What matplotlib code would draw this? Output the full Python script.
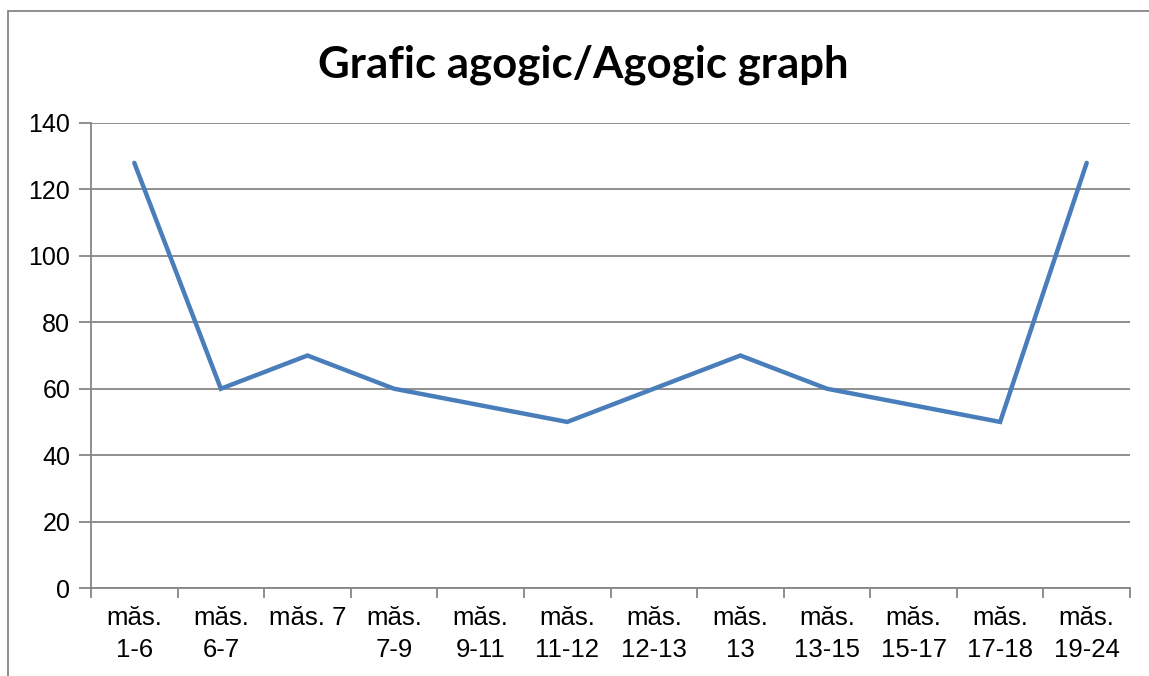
import numpy as np
import matplotlib.pyplot as plt
from matplotlib.patches import Rectangle

# agogic values per section
sections = ['măs.\n1-6', 'măs.\n6-7', 'măs. 7', 'măs.\n7-9', 'măs.\n9-11', 'măs.\n11-12',
            'măs.\n12-13', 'măs.\n13', 'măs.\n13-15', 'măs.\n15-17', 'măs.\n17-18', 'măs.\n19-24']
tempo = [128, 60, 70, 60, 55, 50, 60, 70, 60, 55, 50, 128]
yticks = [0, 20, 40, 60, 80, 100, 120, 140]

W, H = 1149, 676
fig = plt.figure(figsize=(W / 100, H / 100), dpi=100)
ax = fig.add_axes([91 / W, 1 - 588 / H, (1130 - 91) / W, (588 - 123) / H])

grid_col = '#868686'
x = np.arange(len(tempo))
ax.plot(x, tempo, color='#4A7EBB', lw=3.2, solid_capstyle='round', solid_joinstyle='miter', zorder=3)

ax.set_xlim(-0.5, len(tempo) - 0.5)
ax.set_ylim(0, 140)
ax.set_yticks(yticks)
ax.yaxis.grid(True, color=grid_col, lw=1.3)
ax.set_axisbelow(True)

ax.set_xticks(x)
ax.set_xticklabels(sections, fontsize=18.5, family='Liberation Sans', linespacing=1.4, va='top')
ax.set_xticks(np.arange(len(tempo) + 1) - 0.5, minor=True)
ax.tick_params(axis='x', which='major', length=0, pad=13)
ax.tick_params(axis='x', which='minor', length=7, color=grid_col, width=1.3)
ax.tick_params(axis='y', length=9, color=grid_col, width=1.3, pad=6, labelsize=18)
for lab in ax.get_yticklabels():
    lab.set_family('Liberation Sans')

for s in ['top', 'right']:
    ax.spines[s].set_visible(False)
for s in ['left', 'bottom']:
    ax.spines[s].set_color(grid_col)
    ax.spines[s].set_linewidth(1.3)

fig.text(583 / W, 1 - 65 / H, 'Grafic agogic/Agogic graph', ha='center', va='center',
         fontsize=31.5, fontweight='bold', family='Lato')

# chart frame (cut off at the right and bottom like the screenshot)
fig.patches.append(Rectangle((8 / W, -0.1), 1.2, 1.1 - 11 / H, transform=fig.transFigure,
                             fill=False, edgecolor=grid_col, lw=1.3))

fig.savefig('out.png', dpi=100)
